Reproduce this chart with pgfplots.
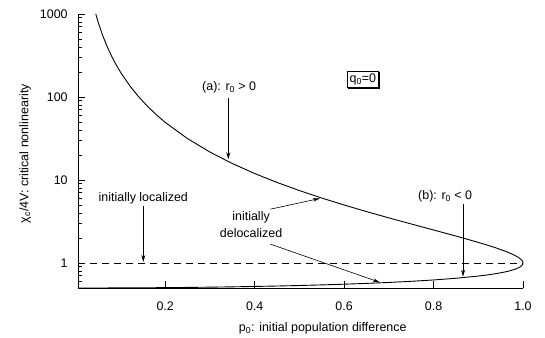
\documentclass[border=0pt]{standalone}
\usepackage{fontspec}
\setmainfont{Liberation Sans}
\usepackage{pgfplots}
\pgfplotsset{compat=1.18}
\usetikzlibrary{arrows.meta,shadows}
\begin{document}
\fontsize{12.5}{15}\selectfont
\begin{tikzpicture}
\begin{axis}[
  name=ax,
  scale only axis, width=445bp, height=274bp,
  xmin=0.005, xmax=1.0, ymode=log, ymin=0.5, ymax=1000,
  axis lines*=left, axis line style={line width=0.9pt},
  xtick={0.2,0.4,0.6,0.8,1.0},
  xticklabels={0.2,0.4,0.6,0.8,1.0},
  ytick={1,10,100,1000}, yticklabels={1,10,100,1000},
  minor ytick={0.5,0.6,0.7,0.8,0.9,2,3,4,5,6,7,8,9,20,30,40,50,60,70,80,90,200,300,400,500,600,700,800,900},
  tick align=inside, major tick length=7bp, minor tick length=4bp,
  tick style={line width=0.8pt,black},
  xticklabel style={yshift=-9bp},
  yticklabel style={xshift=-6bp},
  /pgf/number format/assume math mode=true,
  tick label style={font=\fontsize{12.5}{15}\selectfont},
  label style={font=\fontsize{12.5}{15}\selectfont},
  xlabel={p\textsubscript{0}: initial population difference},
  xlabel style={at={(axis description cs:0.55,-0.148)}, anchor=center},
  ylabel={χ\textsubscript{c}/4V: critical nonlinearity},
  ylabel style={at={(axis description cs:-0.119,0.49)}, anchor=center},
  clip=false,
]
\addplot[black, line width=0.9pt] coordinates {
(0.04472,1000) (0.05,799.5) (0.06,555.06) (0.07,407.66) (0.08,312.0) (0.09,246.41)
(0.1,199.50) (0.12,138.39) (0.14,101.54) (0.16,77.62) (0.18,61.22) (0.2,49.49)
(0.25,31.49) (0.3,21.71) (0.35,15.81) (0.4,11.98) (0.45,9.348) (0.5,7.464)
(0.55,6.067) (0.6,5.0) (0.65,4.1655) (0.7,3.4983) (0.75,2.9537) (0.8,2.5)
(0.85,2.1132) (0.9,1.7727) (0.92,1.6445) (0.94,1.5179) (0.96,1.3889) (0.97,1.3212)
(0.98,1.2484) (0.985,1.20854) (0.99,1.1642) (0.995,1.1110) (0.998,1.06748)
(0.999,1.0468) (0.9995,1.03265) (1.0,1.0) (0.9995,0.96935) (0.999,0.95720)
(0.998,0.94054) (0.995,0.90919) (0.99,0.87637) (0.985,0.85284) (0.98,0.83403)
(0.97,0.80444) (0.96,0.78125) (0.94,0.74561) (0.92,0.71843) (0.9,0.69643)
(0.85,0.65497) (0.8,0.625) (0.75,0.60189) (0.7,0.58338) (0.65,0.56820)
(0.6,0.55556) (0.55,0.54491) (0.5,0.53590) (0.45,0.52826) (0.4,0.52178)
(0.35,0.51633) (0.3,0.51179) (0.25,0.50807) (0.2,0.50510) (0.15,0.50284)
(0.1,0.50126) (0.05,0.50031) (0.005,0.500003)
};
\addplot[black, line width=0.9pt, dash pattern=on 7bp off 5bp] coordinates {(0.005,1) (1.0,1)};
\node at (axis cs:0.343,130) {(a): r\textsubscript{0} > 0};
\draw[line width=0.8pt, -{Stealth[length=7bp,width=4bp]}] (axis cs:0.341,98) -- (axis cs:0.341,17.8);
\node[draw, fill=white, line width=1pt, inner sep=2.5bp, drop shadow={shadow xshift=1bp, shadow yshift=-1bp, opacity=1, fill=black}] at (axis cs:0.642,162) {q\textsubscript{0}=0};
\node at (axis cs:0.151,6.0) {initially localized};
\draw[line width=0.8pt, -{Stealth[length=7bp,width=4bp]}] (axis cs:0.151,4.8) -- (axis cs:0.151,1.03);
\node at (axis cs:0.826,6.37) {(b): r\textsubscript{0} < 0};
\draw[line width=0.8pt, -{Stealth[length=7bp,width=4bp]}] (axis cs:0.866,5.1) -- (axis cs:0.866,0.685);
\node[align=center, inner sep=1bp] at (axis cs:0.392,2.94) {initially\\[2bp]delocalized};
\draw[line width=0.6pt, -{Stealth[length=7bp,width=3.5bp]}] (axis cs:0.435,4.45) -- (axis cs:0.546,6.0);
\draw[line width=0.6pt, -{Stealth[length=7bp,width=3.5bp]}] (axis cs:0.435,1.69) -- (axis cs:0.68,0.585);
\end{axis}
\pgfresetboundingbox
\path[use as bounding box] (-78bp,-50bp) rectangle (467bp,288bp);
\end{tikzpicture}
\end{document}
